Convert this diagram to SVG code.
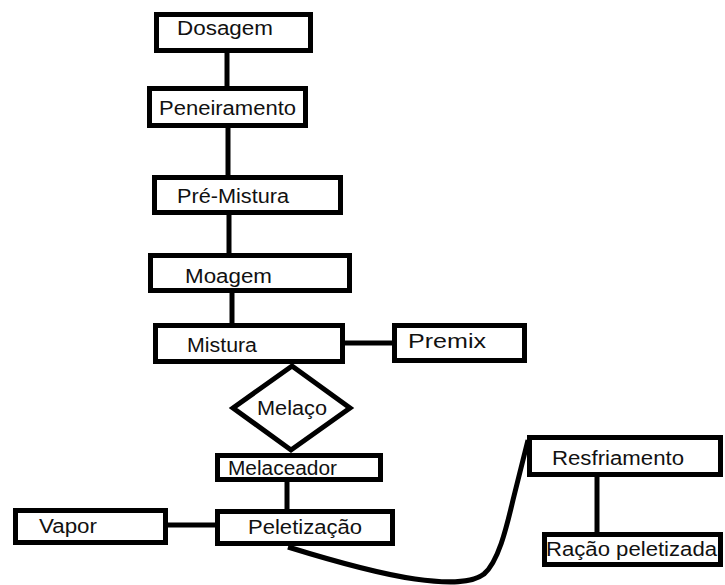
<svg xmlns="http://www.w3.org/2000/svg" width="725" height="585" viewBox="0 0 725 585">
<style>
.box{fill:#fff;stroke:#000;stroke-width:5}
.ln{fill:none;stroke:#000;stroke-width:5}
text{font-family:"Liberation Sans",Arial,sans-serif;font-size:20px;fill:#111}
</style>
<rect width="725" height="585" fill="#fff"/>
<g id="connectors">
<line class="ln" x1="227" y1="52" x2="227" y2="88"/>
<line class="ln" x1="228" y1="127" x2="228" y2="177"/>
<line class="ln" x1="229" y1="214" x2="229" y2="255"/>
<line class="ln" x1="232" y1="292" x2="232" y2="325"/>
<line class="ln" x1="344" y1="343" x2="394" y2="343"/>
<line class="ln" x1="287" y1="481" x2="287" y2="511"/>
<line class="ln" x1="166" y1="525" x2="217" y2="525"/>
<line class="ln" x1="597" y1="476" x2="597" y2="534"/>
<path class="ln" d="M288 547 C330 560 380 574 415 579 C450 584 472 583 484 574 C498 562 506 530 513 500 L528 440"/>
</g>
<g id="dosagem"><rect class="box" x="156.5" y="14.5" width="154" height="36"/><text x="177" y="35" textLength="96" lengthAdjust="spacingAndGlyphs">Dosagem</text></g>
<g id="peneiramento"><rect class="box" x="149.5" y="88.5" width="156" height="37"/><text x="159" y="115" textLength="137" lengthAdjust="spacingAndGlyphs">Peneiramento</text></g>
<g id="premistura"><rect class="box" x="154.5" y="177.5" width="186" height="35"/><text x="177" y="203" textLength="112" lengthAdjust="spacingAndGlyphs">Pré-Mistura</text></g>
<g id="moagem"><rect class="box" x="150.5" y="255.5" width="199" height="35"/><text x="185" y="283" textLength="87" lengthAdjust="spacingAndGlyphs">Moagem</text></g>
<g id="mistura"><rect class="box" x="155.5" y="325.5" width="187" height="36"/><text x="187" y="352" textLength="70" lengthAdjust="spacingAndGlyphs">Mistura</text></g>
<g id="premix"><rect class="box" x="394.5" y="325.5" width="130" height="35"/><text x="408" y="348" textLength="78" lengthAdjust="spacingAndGlyphs">Premix</text></g>
<g id="melaco"><polygon class="box" points="292,366 350,408 291,450 233,408"/><text x="257" y="415" textLength="70" lengthAdjust="spacingAndGlyphs">Melaço</text></g>
<g id="melaceador"><rect class="box" x="217.5" y="455.5" width="163" height="24"/><text x="228" y="475" textLength="109" lengthAdjust="spacingAndGlyphs">Melaceador</text></g>
<g id="peletizacao"><rect class="box" x="217.5" y="511.5" width="175" height="32"/><text x="248" y="534" textLength="114" lengthAdjust="spacingAndGlyphs">Peletização</text></g>
<g id="vapor"><rect class="box" x="15.5" y="510.5" width="150" height="32"/><text x="39" y="533" textLength="58" lengthAdjust="spacingAndGlyphs">Vapor</text></g>
<g id="resfriamento"><rect class="box" x="529.5" y="437.5" width="191" height="37"/><text x="552" y="465" textLength="132" lengthAdjust="spacingAndGlyphs">Resfriamento</text></g>
<g id="racao"><rect class="box" x="544.5" y="534.5" width="176" height="30"/><text x="546" y="556" textLength="171" lengthAdjust="spacingAndGlyphs">Ração peletizada</text></g>
</svg>
